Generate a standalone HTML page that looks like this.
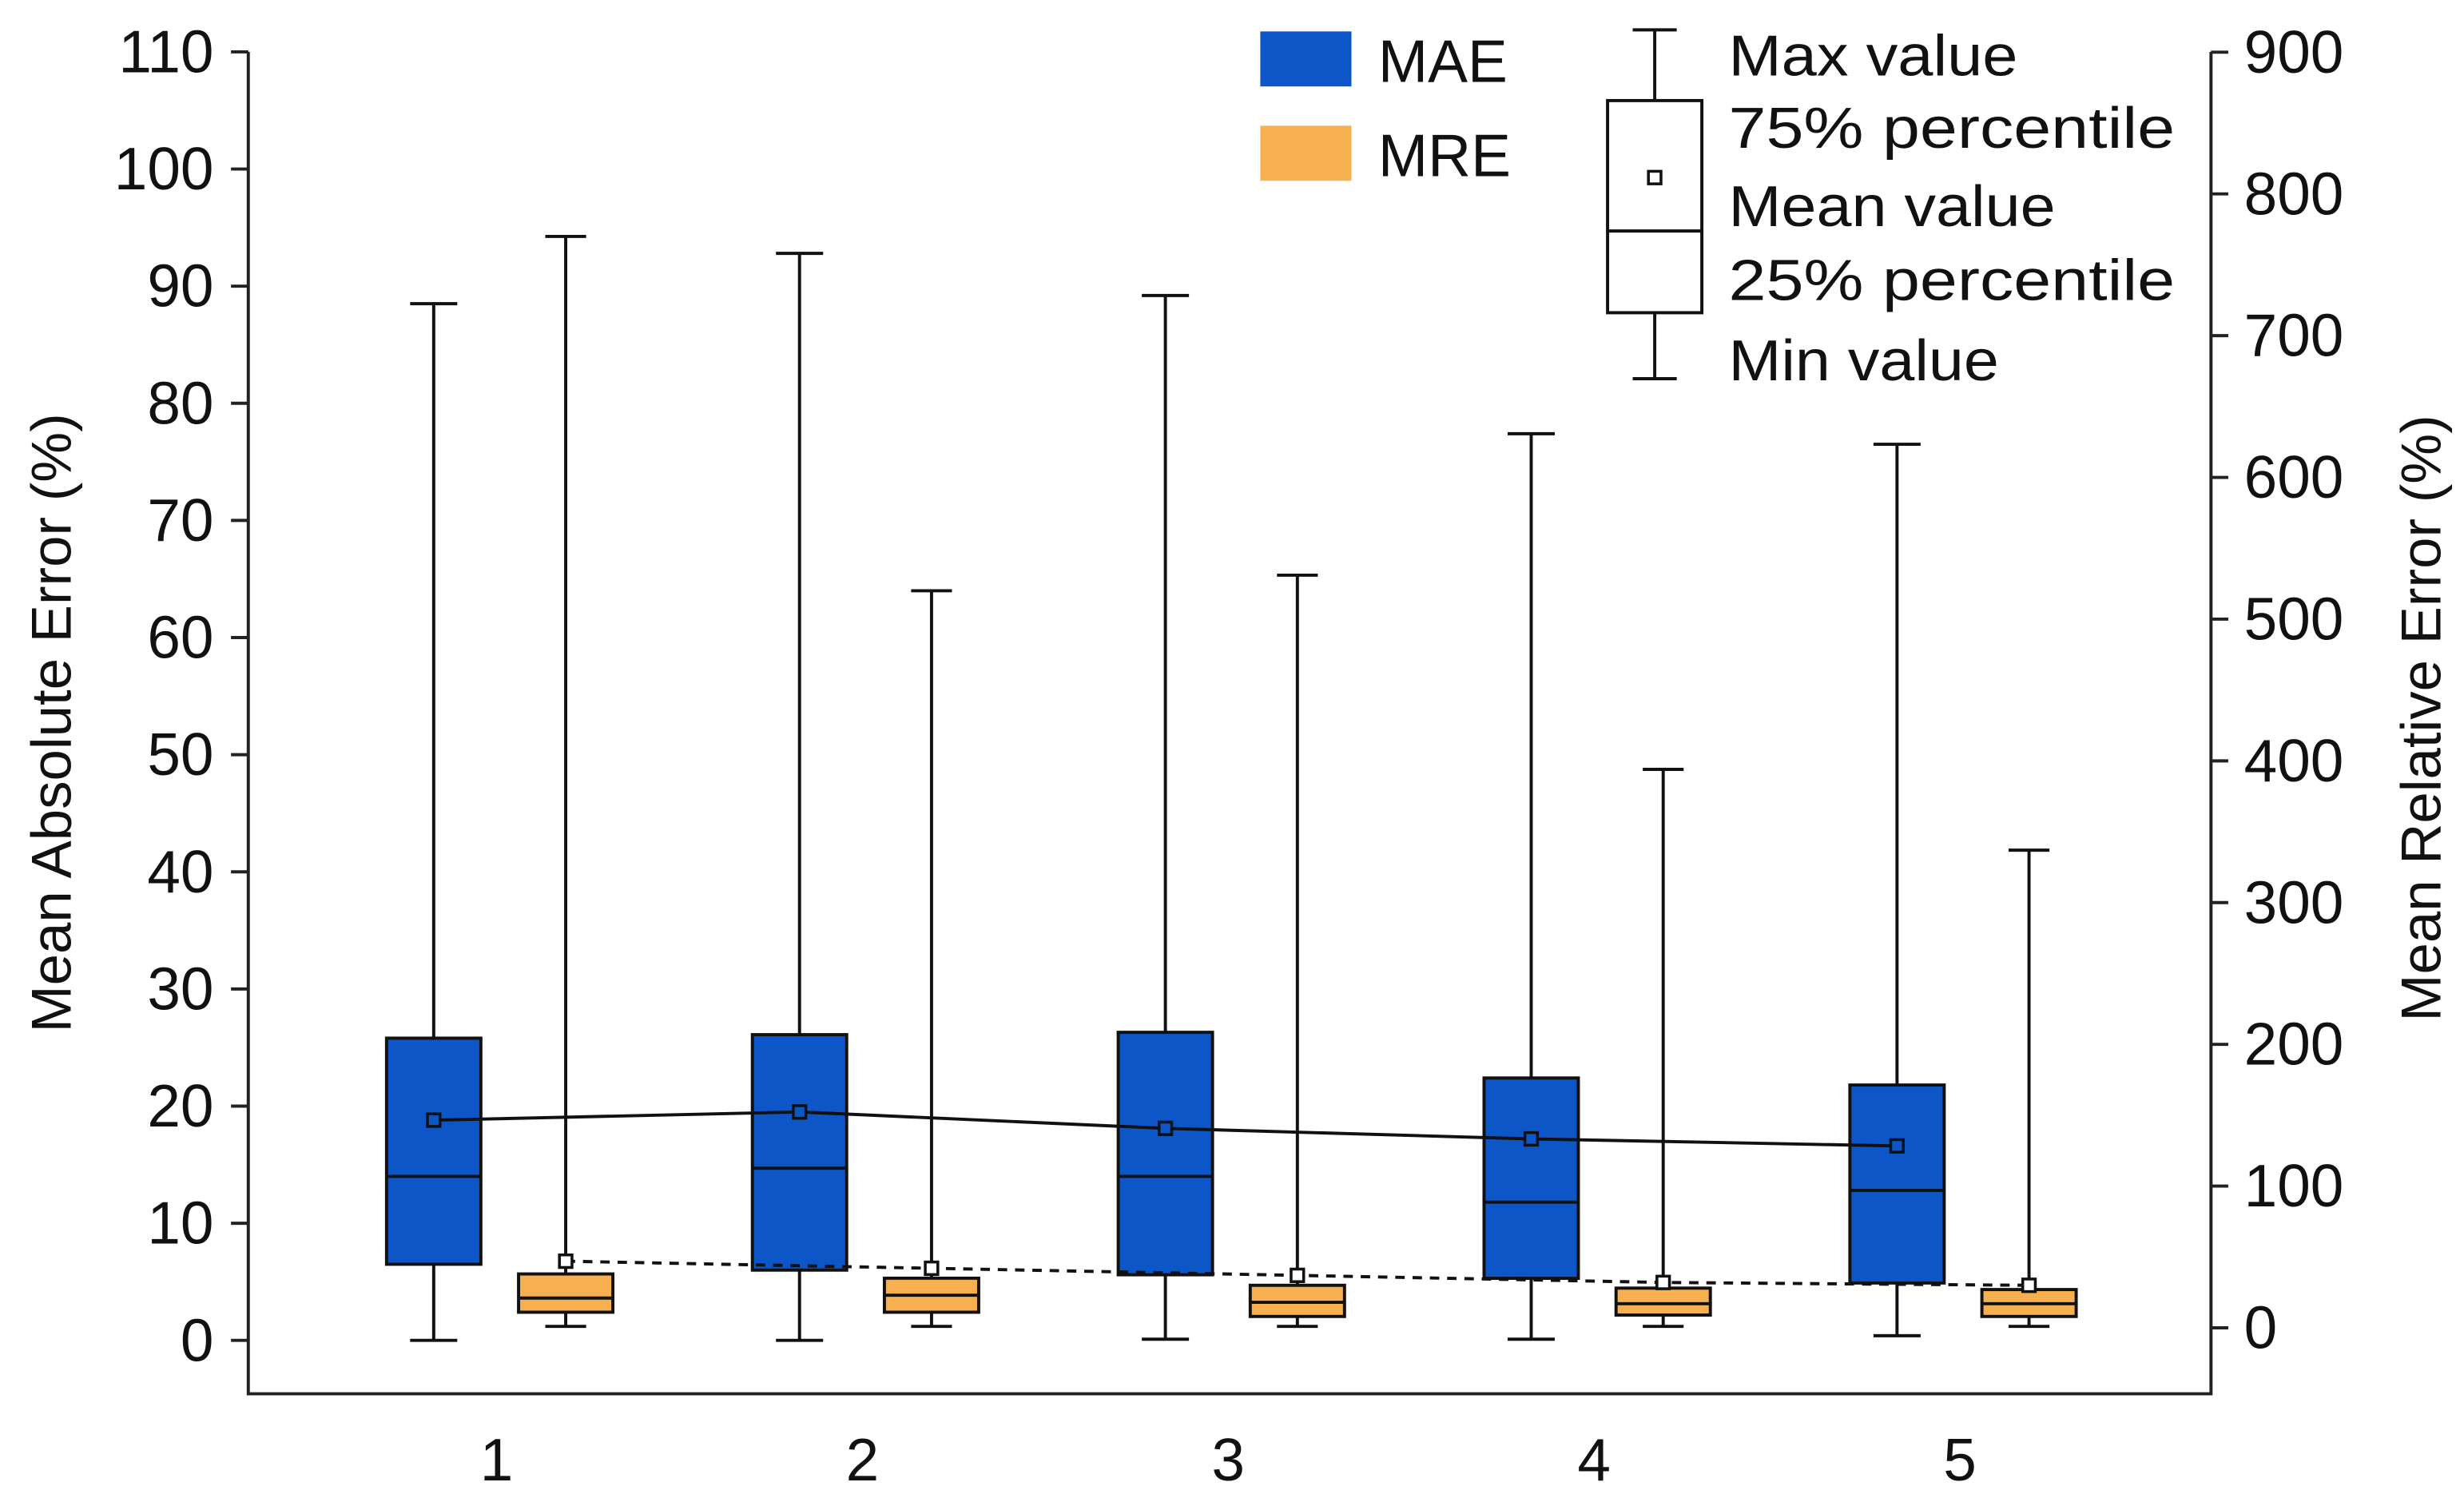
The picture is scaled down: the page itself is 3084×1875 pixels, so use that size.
<!DOCTYPE html>
<html><head><meta charset="utf-8"><style>
html,body{margin:0;padding:0;background:#fff}
svg{display:block}
text{font-family:"Liberation Sans",Arial,sans-serif;fill:#111}
</style></head><body>
<svg id="chart" xmlns="http://www.w3.org/2000/svg" width="3084" height="1875" viewBox="0 0 1568 953.3">
<g id="axes"></g>
<g id="marks"></g>
<g id="legend"></g>
</svg>
<script>
const categories = ["1","2","3","4","5"];
const maeMin = [0, 0, 0.1, 0.1, 0.4];
const maeQ1 = [6.5, 6, 5.6, 5.3, 4.9];
const maeMed = [14, 14.7, 14, 11.8, 12.8];
const maeQ3 = [25.8, 26.1, 26.3, 22.4, 21.8];
const maeMax = [88.5, 92.8, 89.2, 77.4, 76.5];
const maeMean = [18.8, 19.5, 18.1, 17.2, 16.6];
const mreMin = [1, 1, 1, 1, 1];
const mreQ1 = [11, 11, 8, 9, 8];
const mreMed = [21, 23, 18, 17, 17];
const mreQ3 = [38, 35, 30, 28, 27];
const mreMax = [770, 520, 531, 394, 337];
const mreMean = [47, 42, 37, 32, 30];
const leftTicks = [0,10,20,30,40,50,60,70,80,90,100,110];
const rightTicks = [0,100,200,300,400,500,600,700,800,900];

const NS="http://www.w3.org/2000/svg";
function mk(parent,tag,attrs,txt){const e=document.createElementNS(NS,tag);for(const k in attrs)e.setAttribute(k,attrs[k]);if(txt!==undefined)e.textContent=txt;parent.appendChild(e);return e;}
const yL=v=>853-v*7.4545;
const yR=v=>845-v*0.902;
const xC=i=>316+i*232.8;
const axes=document.getElementById('axes'), marks=document.getElementById('marks'), legend=document.getElementById('legend');
const SW=2;

let e;
e=mk(axes,'polyline',{points:"158,33 158,887 1407,887 1407,33",fill:"none",stroke:"#222","stroke-width":SW});

leftTicks.forEach(v=>{
  e=mk(axes,'line',{x1:147,x2:158,y1:yL(v),y2:yL(v),stroke:"#222","stroke-width":SW});
  
  e=mk(axes,'text',{x:136,y:yL(v)+13,"text-anchor":"end","font-size":38},String(v));
  
});
rightTicks.forEach(v=>{
  e=mk(axes,'line',{x1:1407,x2:1418,y1:yR(v),y2:yR(v),stroke:"#222","stroke-width":SW});
  
  e=mk(axes,'text',{x:1428,y:yR(v)+13,"text-anchor":"start","font-size":38},String(v));
  
});
categories.forEach((c,i)=>{
  e=mk(axes,'text',{x:xC(i),y:942,"text-anchor":"middle","font-size":38},c);
  
});
e=mk(axes,'text',{x:0,y:0,"text-anchor":"middle","font-size":36,transform:"translate(45,460) rotate(-90)"},"Mean Absolute Error (%)");

e=mk(axes,'text',{x:0,y:0,"text-anchor":"middle","font-size":36,transform:"translate(1553,457) rotate(-90)"},"Mean Relative Error (%)");


function box(cx,w,cap,mn,q1,md,q3,mx,fill,name){
  const g=mk(marks,'g',{});
  
  mk(g,'line',{x1:cx,x2:cx,y1:mx,y2:q3,stroke:"#111","stroke-width":SW});
  mk(g,'line',{x1:cx,x2:cx,y1:q1,y2:mn,stroke:"#111","stroke-width":SW});
  mk(g,'line',{x1:cx-cap/2,x2:cx+cap/2,y1:mx,y2:mx,stroke:"#111","stroke-width":SW});
  mk(g,'line',{x1:cx-cap/2,x2:cx+cap/2,y1:mn,y2:mn,stroke:"#111","stroke-width":SW});
  mk(g,'rect',{x:cx-w/2,y:q3,width:w,height:q1-q3,fill:fill,stroke:"#111","stroke-width":SW});
  mk(g,'line',{x1:cx-w/2,x2:cx+w/2,y1:md,y2:md,stroke:"#111","stroke-width":SW});
}
categories.forEach((c,i)=>{
  box(xC(i)-40,60,30,yL(maeMin[i]),yL(maeQ1[i]),yL(maeMed[i]),yL(maeQ3[i]),yL(maeMax[i]),"#0d56c8","mae-box-"+c);
  box(xC(i)+44,60,26,yR(mreMin[i]),yR(mreQ1[i]),yR(mreMed[i]),yR(mreQ3[i]),yR(mreMax[i]),"#f6b04f","mre-box-"+c);
});
e=mk(marks,'polyline',{points:categories.map((c,i)=>(xC(i)-40)+","+yL(maeMean[i])).join(" "),fill:"none",stroke:"#111","stroke-width":SW});

e=mk(marks,'polyline',{points:categories.map((c,i)=>(xC(i)+44)+","+yR(mreMean[i])).join(" "),fill:"none",stroke:"#111","stroke-width":SW,"stroke-dasharray":"6,5"});

categories.forEach((c,i)=>{
  e=mk(marks,'rect',{x:xC(i)-44,y:yL(maeMean[i])-4,width:8,height:8,fill:"#0d56c8",stroke:"#111","stroke-width":1.8});
  
  e=mk(marks,'rect',{x:xC(i)+40,y:yR(mreMean[i])-4,width:8,height:8,fill:"#fff",stroke:"#111","stroke-width":1.8});
  
});

e=mk(legend,'rect',{x:802,y:20,width:58,height:35,fill:"#0d56c8"});

e=mk(legend,'text',{x:877,y:52,"font-size":38},"MAE");

e=mk(legend,'rect',{x:802,y:80,width:58,height:35,fill:"#f6b04f"});

e=mk(legend,'text',{x:877,y:112,"font-size":38},"MRE");

const kg=mk(legend,'g',{});

mk(kg,'line',{x1:1053,x2:1053,y1:19,y2:64,stroke:"#111","stroke-width":SW});
mk(kg,'line',{x1:1053,x2:1053,y1:199,y2:241,stroke:"#111","stroke-width":SW});
mk(kg,'line',{x1:1039,x2:1067,y1:19,y2:19,stroke:"#111","stroke-width":SW});
mk(kg,'line',{x1:1039,x2:1067,y1:241,y2:241,stroke:"#111","stroke-width":SW});
mk(kg,'rect',{x:1023,y:64,width:60,height:135,fill:"#fff",stroke:"#111","stroke-width":SW});
mk(kg,'line',{x1:1023,x2:1083,y1:147,y2:147,stroke:"#111","stroke-width":SW});
mk(kg,'rect',{x:1049,y:109,width:8,height:8,fill:"#fff",stroke:"#111","stroke-width":1.8});
[["Max value",48],["75% percentile",94],["Mean value",144],["25% percentile",191],["Min value",242]].forEach(t=>{
  e=mk(legend,'text',{x:1100,y:t[1],"font-size":37,textLength:t[0].length>10?284:t[0]==="Mean value"?208:t[0]==="Max value"?184:172,lengthAdjust:"spacingAndGlyphs"},t[0]);
  
});
</script>
</body></html>
